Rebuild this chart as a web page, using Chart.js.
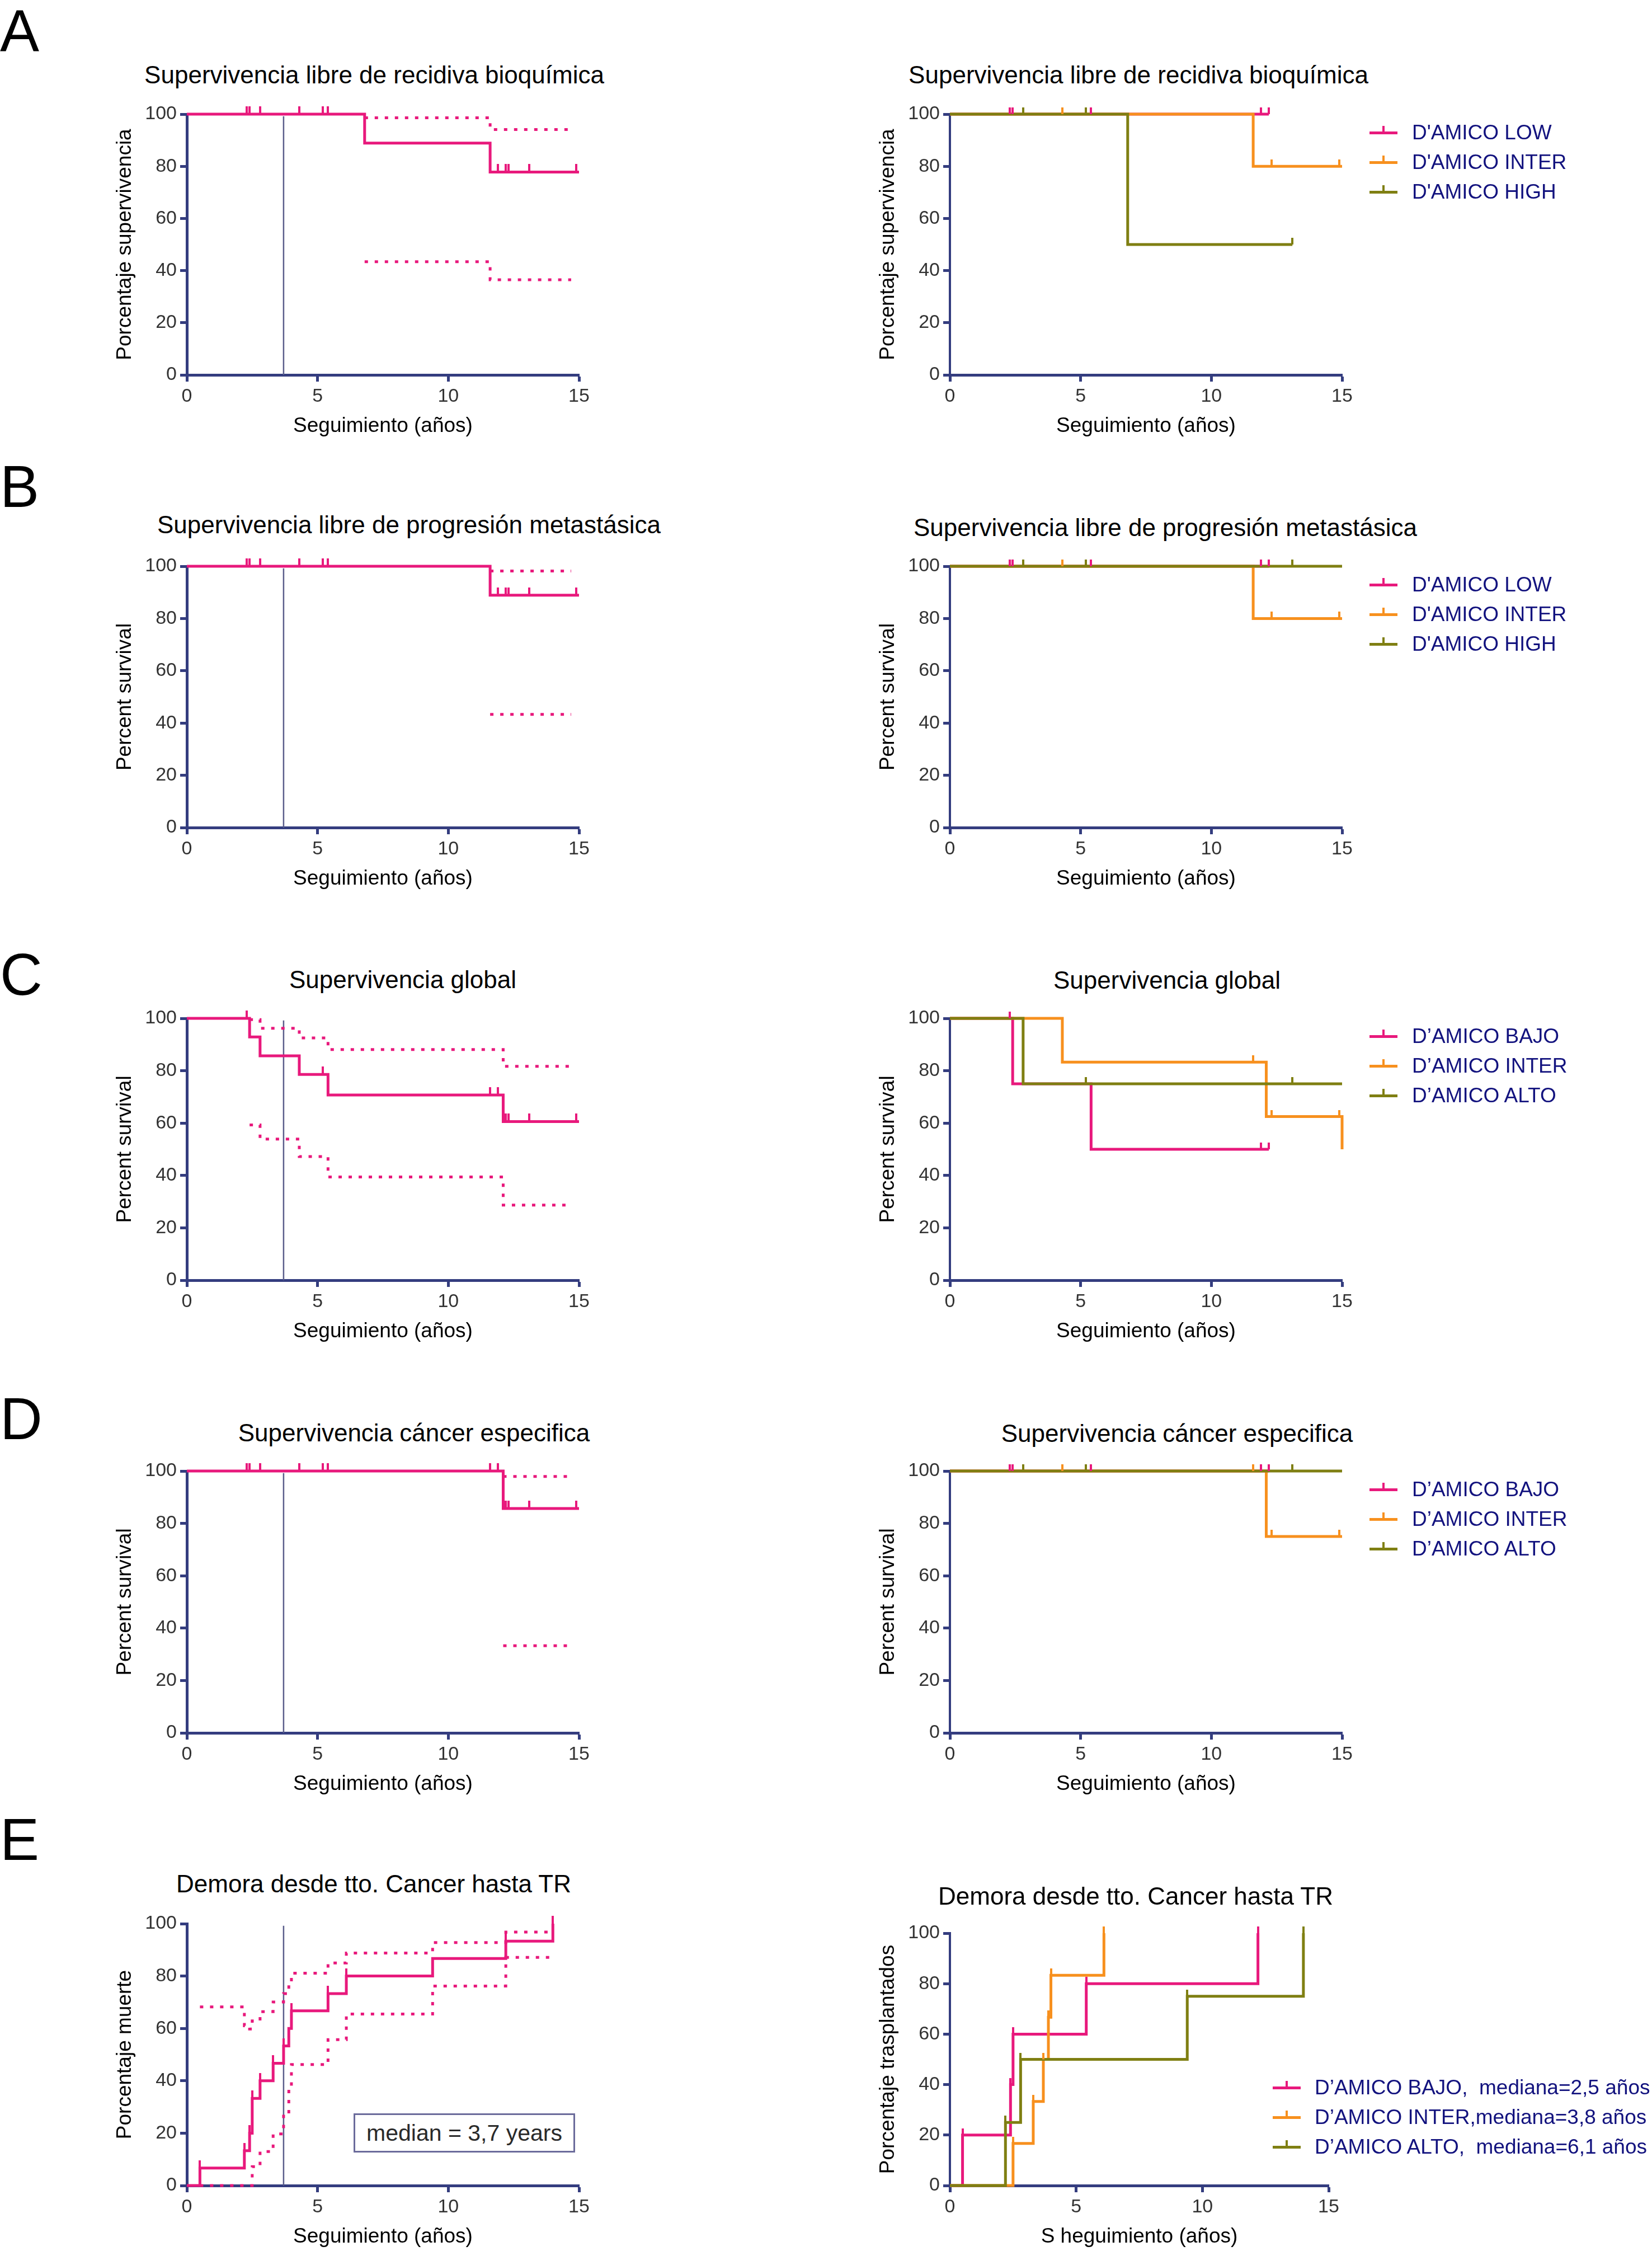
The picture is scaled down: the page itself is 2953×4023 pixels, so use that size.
<!DOCTYPE html>
<html>
<head>
<meta charset="utf-8">
<script src="https://cdn.jsdelivr.net/npm/chart.js@4.4.1/dist/chart.umd.min.js"></script>
<style>
  html, body { margin: 0; padding: 0; background: #fff; }
  body { width: 2953px; height: 4023px; position: relative; overflow: hidden;
         font-family: 'Liberation Sans', Arial, Helvetica, sans-serif; }
  canvas { position: absolute; }
  .title { position: absolute; transform: translate(-50%, -50%); font-size: 44px;
           line-height: 1.2; white-space: nowrap; color: #000; }
  .letter { position: absolute; left: 0; font-size: 105px; line-height: 1; color: #000; }
  .leg { position: absolute; height: 0; }
  .leg .sym { position: absolute; left: 0; top: -2.5px; width: 50px; height: 5px; }
  .leg .sym i { position: absolute; left: 23px; top: -10px; width: 4px; height: 10px; }
  .leg .txt { position: absolute; top: -22px; line-height: 44px; font-size: 37px;
              white-space: pre; color: #12127e; }
  .median { position: absolute; left: 632px; top: 3777px; width: 390px; height: 64px;
            border: 3px solid #6b6b9b; background: #fff; font-size: 41px; color: #2a2a2a;
            line-height: 64px; text-align: center; white-space: nowrap; }
</style>
</head>
<body>
<script>
var PINK = "#e8197c";
var ORANGE = "#f7901e";
var OLIVE = "#7f7f12";
var AXIS = "#343d7f";
var MEDLINE = "#5a5d8a";

// ---------- data (years, percent) ----------
var medianYears = 3.7;

// A - recidiva bioquimica
var aAllT = [0, 6.8, 11.6, 15];
var aAllS = [100, 88.9, 77.8, 77.8];
var aAllCens = [2.3, 2.4, 2.8, 4.3, 5.2, 5.4, 11.9, 12.2, 12.3, 13.1, 14.9];
var aUpT = [6.8, 11.6, 14.7];
var aUpS = [98.6, 94.1, 94.1];
var aLoT = [6.8, 11.6, 14.7];
var aLoS = [43.4, 36.5, 36.5];
var aLowT = [0, 12.2], aLowS = [100, 100], aLowCens = [2.3, 2.4, 5.4, 11.9, 12.2];
var aInterT = [0, 11.6, 15], aInterS = [100, 80, 80], aInterCens = [4.3, 12.3, 14.9];
var aHighT = [0, 6.8, 13.1], aHighS = [100, 50, 50], aHighCens = [2.8, 5.2, 13.1];

// B - progresion metastasica
var bAllT = [0, 11.6, 15];
var bAllS = [100, 88.9, 88.9];
var bAllCens = [2.3, 2.4, 2.8, 4.3, 5.2, 5.4, 11.9, 12.2, 12.3, 13.1, 14.9];
var bUpT = [11.6, 14.7], bUpS = [98.2, 98.2];
var bLoT = [11.6, 14.7], bLoS = [43.3, 43.3];
var bLowT = [0, 12.2], bLowS = [100, 100], bLowCens = [2.3, 2.4, 5.4, 11.9, 12.2];
var bInterT = [0, 11.6, 15], bInterS = [100, 80, 80], bInterCens = [4.3, 12.3, 14.9];
var bHighT = [0, 15], bHighS = [100, 100], bHighCens = [2.8, 5.2, 13.1];

// C - supervivencia global
var cAllT = [0, 2.4, 2.8, 4.3, 5.4, 12.1, 15];
var cAllS = [100, 92.9, 85.7, 78.6, 70.7, 60.6, 60.6];
var cAllCens = [2.3, 5.2, 11.6, 11.9, 12.2, 12.3, 13.1, 14.9];
var cUpT = [2.4, 2.8, 4.3, 5.4, 12.1, 14.7];
var cUpS = [99.5, 96.2, 92.5, 88.1, 81.7, 81.7];
var cLoT = [2.4, 2.8, 4.3, 5.4, 12.1, 14.7];
var cLoS = [59.3, 53.9, 47.2, 39.4, 28.7, 28.7];
var cBajoT = [0, 2.4, 5.4, 12.2], cBajoS = [100, 75, 50, 50], cBajoCens = [2.3, 11.9, 12.2];
var cInterT = [0, 4.3, 12.1, 15], cInterS = [100, 83.3, 62.5, 50], cInterCens = [11.6, 12.3, 14.9];
var cAltoT = [0, 2.8, 15], cAltoS = [100, 75, 75], cAltoCens = [5.2, 13.1];

// D - cancer especifica
var dAllT = [0, 12.1, 15];
var dAllS = [100, 85.7, 85.7];
var dAllCens = [2.3, 2.4, 2.8, 4.3, 5.2, 5.4, 11.6, 11.9, 12.2, 12.3, 13.1, 14.9];
var dUpT = [12.1, 14.7], dUpS = [97.9, 97.9];
var dLoT = [12.1, 14.7], dLoS = [33.3, 33.3];
var dBajoT = [0, 12.2], dBajoS = [100, 100], dBajoCens = [2.3, 2.4, 5.4, 11.9, 12.2];
var dInterT = [0, 12.1, 15], dInterS = [100, 75, 75], dInterCens = [4.3, 11.6, 12.3, 14.9];
var dAltoT = [0, 15], dAltoS = [100, 100], dAltoCens = [2.8, 5.2, 13.1];

// E - demora hasta TR (acumulado)
var eAllT = [0, 0.5, 2.2, 2.4, 2.5, 2.8, 3.3, 3.7, 3.9, 4.0, 5.4, 6.1, 9.4, 12.2, 14.0];
var eAllS = [0, 6.7, 13.3, 20, 33.3, 40, 46.7, 53.3, 60, 66.7, 73.3, 80, 86.7, 93.3, 100];
var eAllMarks = [0.5, 2.2, 2.4, 2.5, 2.8, 3.3, 3.7, 4.0, 5.4, 6.1, 12.2, 14.0];
var eUpT = [0.5, 2.2, 2.4, 2.5, 2.8, 3.3, 3.7, 3.9, 4.0, 5.4, 6.1, 9.4, 12.2, 14.0];
var eUpS = [68.2, 61.0, 59.8, 62.9, 66.4, 70.1, 73.3, 77.0, 81.1, 85.0, 88.8, 92.8, 96.8, 96.8];
var eLoT = [0.5, 2.5, 2.8, 3.3, 3.7, 3.9, 4.0, 5.4, 6.1, 9.4, 12.2, 14.0];
var eLoS = [0, 7.2, 13.0, 19.7, 27.4, 36.9, 46.2, 55.7, 65.5, 76.2, 87.1, 87.1];
var eBajoT = [0, 0.5, 2.4, 2.5, 5.4, 12.2], eBajoS = [0, 20, 40, 60, 80, 100];
var eInterT = [0, 2.5, 3.3, 3.7, 3.9, 4.0, 6.1], eInterS = [0, 16.7, 33.3, 50, 66.7, 83.3, 100];
var eAltoT = [0, 2.2, 2.8, 9.4, 14.0], eAltoS = [0, 25, 50, 75, 100];

// ---------- helpers ----------
function pts(T, S) {
  return T.map(function (t, i) { return { x: t, y: S[i] }; });
}
function valueAt(T, S, t) {
  var v = S[0];
  for (var i = 0; i < T.length; i++) if (T[i] <= t) v = S[i];
  return v;
}
function tickImg(color, w, h) {
  var c = document.createElement("canvas");
  c.width = w; c.height = h * 2;
  var g = c.getContext("2d");
  g.fillStyle = color;
  g.fillRect(0, 0, w, h);
  return c;
}
function curve(label, T, S, color, width, order) {
  return { label: label, data: pts(T, S), borderColor: color, borderWidth: width,
           stepped: true, pointRadius: 0, fill: false, clip: false, order: order };
}
function marks(T, S, times, color, h) {
  return { label: "", data: times.map(function (t) { return { x: t, y: valueAt(T, S, t) }; }),
           showLine: false, pointStyle: tickImg(color, 4, h), pointRadius: 2,
           borderWidth: 0, clip: false, order: 0 };
}
function band(T, S) {
  return { label: "", data: pts(T, S), borderColor: PINK, borderWidth: 5, borderDash: [6, 12],
           stepped: true, pointRadius: 0, fill: false, clip: false, order: 8 };
}
function medLine(top) {
  return { label: "", data: [{ x: medianYears, y: 0 }, { x: medianYears, y: top }],
           borderColor: MEDLINE, borderWidth: 2.5, pointRadius: 0, clip: false, order: 9 };
}

Chart.defaults.font.family = "'Liberation Sans', Arial, Helvetica, sans-serif";

function panel(box, datasets, xTitle, yTitle, yBorder) {
  var padTop = 40, yW = 200, xH = 120, padRight = 60;
  var left = box.l - yW, top = box.t - padTop;
  var cv = document.createElement("canvas");
  cv.width = box.r - left + padRight;
  cv.height = box.b - top + xH;
  cv.style.left = left + "px";
  cv.style.top = top + "px";
  document.body.appendChild(cv);
  var tf = 37;
  new Chart(cv, {
    type: "line",
    data: { datasets: datasets },
    options: {
      responsive: false, animation: false, devicePixelRatio: 1, events: [],
      layout: { padding: { top: padTop, right: padRight, left: 0, bottom: 0 } },
      plugins: { legend: { display: false }, tooltip: { enabled: false } },
      scales: {
        x: {
          type: "linear", min: 0, max: 15,
          ticks: { stepSize: 5, color: "#333", font: { size: 34 }, padding: 6 },
          grid: { drawOnChartArea: false, drawTicks: true, tickLength: 12, tickWidth: 5, tickColor: AXIS },
          border: { display: true, color: AXIS, width: 5 },
          title: { display: true, text: xTitle, color: "#000", font: { size: tf },
                   padding: { top: 0, bottom: xH - tf * 0.6 - 92 } },
          afterFit: function (s) { s.height = xH; }
        },
        y: {
          type: "linear", min: 0, max: 100,
          ticks: { stepSize: 20, color: "#333", font: { size: 34 }, padding: 6 },
          grid: { drawOnChartArea: false, drawTicks: true, tickLength: 12, tickWidth: 5, tickColor: AXIS },
          border: { display: true, color: AXIS, width: yBorder },
          title: { display: true, text: yTitle, color: "#000", font: { size: tf },
                   padding: { top: yW - 110 - tf * 0.6, bottom: 0 } },
          afterFit: function (s) { s.width = yW; }
        }
      }
    }
  });
}

function legend(x, y, items) {
  items.forEach(function (it, i) {
    var d = document.createElement("div");
    d.className = "leg";
    d.style.left = x + "px";
    d.style.top = (y + i * 53) + "px";
    d.innerHTML = '<span class="sym" style="background:' + it[1] + '"><i style="background:' + it[1] +
      '"></i></span><span class="txt" style="left:' + it[2] + 'px">' + it[0] + '</span>';
    document.body.appendChild(d);
  });
}

function text(cls, str, x, y) {
  var d = document.createElement("div");
  d.className = cls;
  d.textContent = str;
  d.style.left = x + "px";
  d.style.top = y + "px";
  document.body.appendChild(d);
}

// ---------- panels ----------
var LX = { l: 334, r: 1035 }, RX = { l: 1698, r: 2399 };
var seg = "Seguimiento (años)";

// A
panel({ l: LX.l, r: LX.r, t: 204, b: 670 }, [
  curve("all", aAllT, aAllS, PINK, 5, 3), marks(aAllT, aAllS, aAllCens, PINK, 14),
  band(aUpT, aUpS), band(aLoT, aLoS), medLine(99.2)
], seg, "Porcentaje supervivencia", 5);
panel({ l: RX.l, r: RX.r, t: 204, b: 670 }, [
  curve("D'AMICO LOW", aLowT, aLowS, PINK, 5, 3),
  curve("D'AMICO INTER", aInterT, aInterS, ORANGE, 5, 2),
  curve("D'AMICO HIGH", aHighT, aHighS, OLIVE, 5, 1),
  marks(aLowT, aLowS, aLowCens, PINK, 12), marks(aInterT, aInterS, aInterCens, ORANGE, 12),
  marks(aHighT, aHighS, aHighCens, OLIVE, 12)
], seg, "Porcentaje supervivencia", 4);

// B
panel({ l: LX.l, r: LX.r, t: 1012, b: 1479 }, [
  curve("all", bAllT, bAllS, PINK, 5, 3), marks(bAllT, bAllS, bAllCens, PINK, 14),
  band(bUpT, bUpS), band(bLoT, bLoS), medLine(99.2)
], seg, "Percent survival", 5);
panel({ l: RX.l, r: RX.r, t: 1012, b: 1479 }, [
  curve("D'AMICO LOW", bLowT, bLowS, PINK, 5, 3),
  curve("D'AMICO INTER", bInterT, bInterS, ORANGE, 5, 2),
  curve("D'AMICO HIGH", bHighT, bHighS, OLIVE, 5, 1),
  marks(bLowT, bLowS, bLowCens, PINK, 12), marks(bInterT, bInterS, bInterCens, ORANGE, 12),
  marks(bHighT, bHighS, bHighCens, OLIVE, 12)
], seg, "Percent survival", 4);

// C
panel({ l: LX.l, r: LX.r, t: 1820, b: 2288 }, [
  curve("all", cAllT, cAllS, PINK, 5, 3), marks(cAllT, cAllS, cAllCens, PINK, 14),
  band(cUpT, cUpS), band(cLoT, cLoS), medLine(99.2)
], seg, "Percent survival", 5);
panel({ l: RX.l, r: RX.r, t: 1820, b: 2288 }, [
  curve("D’AMICO BAJO", cBajoT, cBajoS, PINK, 5, 3),
  curve("D’AMICO INTER", cInterT, cInterS, ORANGE, 5, 2),
  curve("D’AMICO ALTO", cAltoT, cAltoS, OLIVE, 5, 1),
  marks(cBajoT, cBajoS, cBajoCens, PINK, 12), marks(cInterT, cInterS, cInterCens, ORANGE, 12),
  marks(cAltoT, cAltoS, cAltoCens, OLIVE, 12)
], seg, "Percent survival", 4);

// D
panel({ l: LX.l, r: LX.r, t: 2629, b: 3097 }, [
  curve("all", dAllT, dAllS, PINK, 5, 3), marks(dAllT, dAllS, dAllCens, PINK, 14),
  band(dUpT, dUpS), band(dLoT, dLoS), medLine(99.2)
], seg, "Percent survival", 5);
panel({ l: RX.l, r: RX.r, t: 2629, b: 3097 }, [
  curve("D’AMICO BAJO", dBajoT, dBajoS, PINK, 5, 3),
  curve("D’AMICO INTER", dInterT, dInterS, ORANGE, 5, 2),
  curve("D’AMICO ALTO", dAltoT, dAltoS, OLIVE, 5, 1),
  marks(dBajoT, dBajoS, dBajoCens, PINK, 12), marks(dInterT, dInterS, dInterCens, ORANGE, 12),
  marks(dAltoT, dAltoS, dAltoCens, OLIVE, 12)
], seg, "Percent survival", 4);

// E
panel({ l: LX.l, r: LX.r, t: 3438, b: 3906 }, [
  curve("all", eAllT, eAllS, PINK, 5, 3), marks(eAllT, eAllS, eAllMarks, PINK, 14),
  band(eUpT, eUpS), band(eLoT, eLoS), medLine(99.2)
], seg, "Porcentaje muerte", 5);
panel({ l: RX.l, r: 2375, t: 3455, b: 3906 }, [
  curve("BAJO", eBajoT, eBajoS, PINK, 5, 3),
  curve("INTER", eInterT, eInterS, ORANGE, 5, 2),
  curve("ALTO", eAltoT, eAltoS, OLIVE, 5, 1),
  marks(eBajoT, eBajoS, eBajoT.slice(1), PINK, 12), marks(eInterT, eInterS, eInterT.slice(1), ORANGE, 12),
  marks(eAltoT, eAltoS, eAltoT.slice(1), OLIVE, 12)
], "S heguimiento (años)", "Porcentaje trasplantados", 4);

// ---------- titles, letters, legends ----------
var bioq = "Supervivencia libre de recidiva bioquímica";
var meta = "Supervivencia libre de progresión metastásica";
var glob = "Supervivencia global";
var esp = "Supervivencia cáncer especifica";
var dem = "Demora desde tto. Cancer hasta TR";
text("title", bioq, 669, 134); text("title", bioq, 2035, 134);
text("title", meta, 731, 938); text("title", meta, 2083, 943);
text("title", glob, 720, 1751); text("title", glob, 2086, 1752);
text("title", esp, 740, 2561); text("title", esp, 2104, 2562);
text("title", dem, 668, 3367); text("title", dem, 2030, 3389);

text("letter", "A", 0, 2); text("letter", "B", 0, 817); text("letter", "C", 0, 1689);
text("letter", "D", 0, 2483); text("letter", "E", 0, 3235);

var gEn = [["D'AMICO LOW", PINK, 76], ["D'AMICO INTER", ORANGE, 76], ["D'AMICO HIGH", OLIVE, 76]];
var gEs = [["D’AMICO BAJO", PINK, 76], ["D’AMICO INTER", ORANGE, 76], ["D’AMICO ALTO", OLIVE, 76]];
legend(2448, 237, gEn);
legend(2448, 1045, gEn);
legend(2448, 1852, gEs);
legend(2448, 2662, gEs);
legend(2275, 3731, [
  ["D’AMICO BAJO,  mediana=2,5 años", PINK, 75],
  ["D’AMICO INTER,mediana=3,8 años", ORANGE, 75],
  ["D’AMICO ALTO,  mediana=6,1 años", OLIVE, 75]
]);

var mb = document.createElement("div");
mb.className = "median";
mb.textContent = "median = 3,7 years";
document.body.appendChild(mb);
</script>
</body>
</html>
